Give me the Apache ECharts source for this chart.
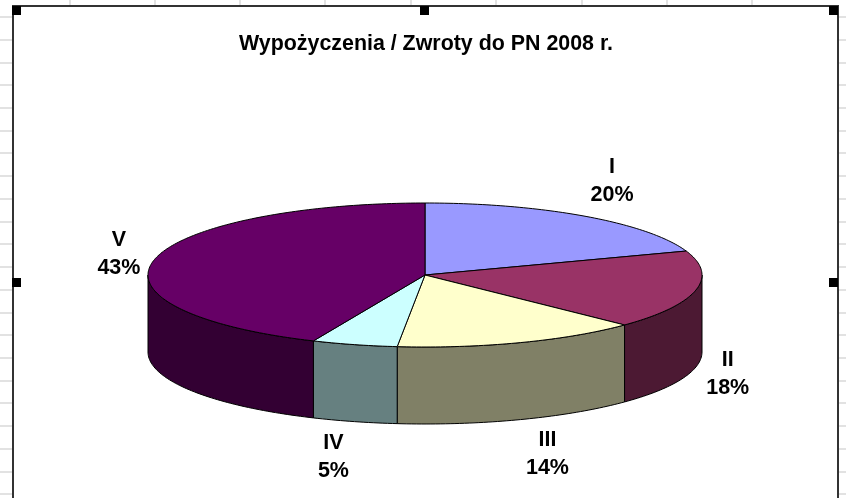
<!DOCTYPE html>
<html>
<head>
<meta charset="utf-8">
<style>
  html, body { margin: 0; padding: 0; background: #fff; }
  #chart { width: 846px; height: 498px; }
</style>
<script src="https://cdn.jsdelivr.net/npm/echarts@6/dist/echarts.min.js"></script>
</head>
<body>
<div id="chart"></div>
<script>
const titleText = 'Wypożyczenia / Zwroty do PN 2008 r.'
const categories = ['I', 'II', 'III', 'IV', 'V']
const shares = [19.6, 17.6, 14.4, 5.0, 43.4]
const topColors = ['#9999ff', '#993366', '#ffffcc', '#ccffff', '#660066']
const sideColors = ['#4c4c80', '#4c1933', '#808066', '#668080', '#330033']

// ellipse of the pie top and the wall height
const cx = 425, cy = 275, rx = 277, ry = 72, depth = 77
// label centre relative to the slice's rim point at mid angle
const labelOffsets = [[27, -35], [32, 84], [27, 111], [-21, 112], [-35, -6]]

const total = shares.reduce((a, b) => a + b, 0)
const starts = []
shares.reduce((acc, v, i) => { starts[i] = acc; return acc + v }, 0)

// angle runs clockwise from 12 o'clock
function rim(deg, dy) {
  const a = deg * Math.PI / 180
  return [cx + rx * Math.sin(a), cy - ry * Math.cos(a) + (dy || 0)]
}
function arc(from, to, dy) {
  const pts = []
  const n = Math.max(2, Math.ceil(to - from))
  for (let i = 0; i <= n; i++) pts.push(rim(from + (to - from) * i / n, dy))
  return pts
}
function angles(i) {
  const from = starts[i] / total * 360
  return [from, from + shares[i] / total * 360]
}

function renderSide(params) {
  const [from, to] = angles(params.dataIndex)
  const a = Math.max(from, 90), b = Math.min(to, 270)
  if (a >= b) return { type: 'group', children: [] }
  return {
    type: 'polygon',
    shape: { points: arc(a, b, 0).concat(arc(a, b, depth).reverse()) },
    style: { fill: sideColors[params.dataIndex], stroke: '#000', lineWidth: 1 }
  }
}

function renderTop(params) {
  const i = params.dataIndex
  const [from, to] = angles(i)
  const mid = rim((from + to) / 2)
  return {
    type: 'group',
    children: [{
      type: 'polygon',
      shape: { points: [[cx, cy]].concat(arc(from, to, 0)) },
      style: { fill: topColors[i], stroke: '#000', lineWidth: 1 }
    }, {
      type: 'text',
      z2: 10,
      style: {
        x: mid[0] + labelOffsets[i][0],
        y: mid[1] + labelOffsets[i][1],
        text: categories[i] + '\n' + Math.round(shares[i]) + '%',
        align: 'center',
        verticalAlign: 'middle',
        fill: '#000',
        font: 'bold 21.5px "Liberation Sans", Arial, sans-serif',
        lineHeight: 28
      }
    }]
  }
}

// spreadsheet behind the chart object
const gridColor = '#d8d8d8'
const rowLines = [17, 40, 63, 85, 108, 131, 153, 176, 199, 222, 244, 267, 290, 313, 335, 358, 381, 403, 426, 449, 472, 494]
const colLines = [70, 155, 240, 325, 411, 496, 582, 667, 752]
const handles = [[12, 6], [420, 6], [829, 6], [12, 278], [829, 278]]

const backdrop = []
rowLines.forEach(y => {
  backdrop.push({ type: 'line', shape: { x1: 0, y1: y, x2: 846, y2: y }, style: { stroke: gridColor, lineWidth: 1.5 } })
})
colLines.forEach(x => {
  backdrop.push({ type: 'line', shape: { x1: x, y1: 0, x2: x, y2: 6 }, style: { stroke: gridColor, lineWidth: 1.5 } })
})
backdrop.push({ type: 'rect', shape: { x: 13, y: 6, width: 825, height: 500 }, style: { fill: '#fff', stroke: '#333', lineWidth: 2 }, z: 1 })
handles.forEach(h => {
  backdrop.push({ type: 'rect', shape: { x: h[0], y: h[1], width: 9, height: 9 }, style: { fill: '#000' }, z: 2 })
})

const chart = echarts.init(document.getElementById('chart'))
chart.setOption({
  animation: false,
  title: {
    text: titleText,
    left: 421,
    top: 29,
    textAlign: 'center',
    textStyle: { color: '#000', fontFamily: '"Liberation Sans", Arial, sans-serif', fontWeight: 'bold', fontSize: 21.4 }
  },
  graphic: backdrop,
  series: [
    { type: 'custom', coordinateSystem: 'none', z: 3, data: shares, renderItem: renderSide, silent: true },
    { type: 'custom', coordinateSystem: 'none', z: 4, data: shares, renderItem: renderTop, silent: true }
  ]
})
</script>
</body>
</html>
